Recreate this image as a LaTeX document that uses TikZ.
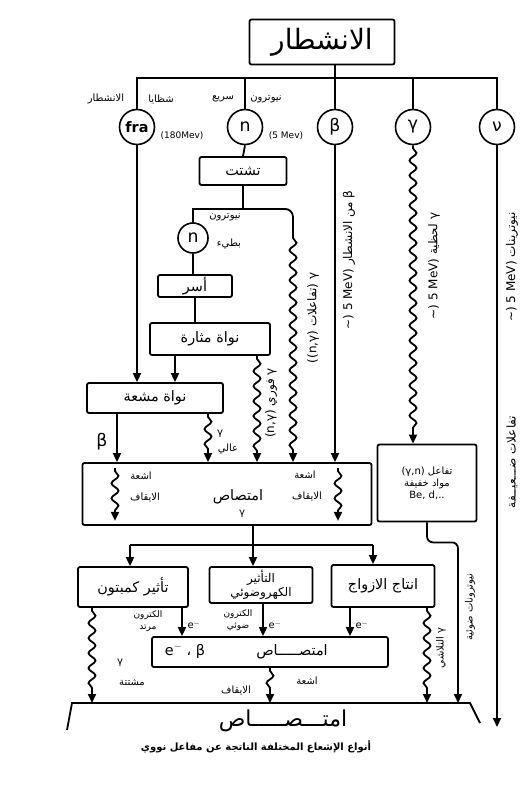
\documentclass[tikz,border=0pt]{standalone}
\usepackage{fontspec}
\setmainfont{DejaVu Sans}
\newfontfamily\arabicfont[Script=Arabic]{DejaVu Sans}
\TeXXeTstate=1
\usetikzlibrary{arrows.meta,positioning,decorations.pathmorphing}
\newcommand{\artxt}[1]{{\arabicfont\beginR #1\endR}}

\begin{document}
\begin{tikzpicture}[x=1pt, y=-1pt,
    box/.style={rectangle, draw, line width=1.8pt, rounded corners=2pt, font=\Large, align=center, inner sep=2pt},
    particle/.style={circle, draw, line width=1.6pt, minimum size=35pt, inner sep=0pt, font=\LARGE},
    lbl/.style={font=\normalsize, inner sep=1pt},
    side/.style={lbl, font=\large, rotate=90},
    wire/.style={line width=1.8pt},
    arrow/.style={wire, -{Triangle[length=9pt, width=8pt]}},
    wave/.style={wire, decorate, decoration={snake, amplitude=3.5pt, segment length=15pt, pre length=3pt, post length=9pt}},
    wavearrow/.style={wave, -{Triangle[length=9pt, width=8pt]}}
]
    \useasboundingbox (0,0) rectangle (532,792);

    % Fission
    \node[box, minimum width=145pt, minimum height=45pt, font=\fontsize{28}{30}\selectfont] (fission) at (322,42) {\artxt{الانشطار}};
    \coordinate (bus) at (0,78);

    % Particles
    \node[particle, font=\Large\bfseries] (frag) at (137,127) {fra};
    \node[particle] (fastn) at (245,127) {n};
    \node[particle] (beta) at (335,127) {β};
    \node[particle] (gamma) at (413,127) {γ};
    \node[particle] (nu) at (497,127) {ν};
    \draw[wire] (beta |- fission.south) -- (beta.north);
    \draw[wire] (frag.north) |- (nu |- bus) -- (nu.north);
    \draw[wire] (fastn.north) -- (fastn |- bus);
    \draw[wire] (gamma.north) -- (gamma |- bus);
    \node[lbl] (fraglbl) at (106,99) {\artxt{الانشطار}};
    \node[lbl] (fraglbl2) at (161,99) {\artxt{شظايا}};
    \node[lbl] (fastlbl) at (223,99) {\artxt{سريع}};
    \node[lbl] (fastlbl2) at (266,99) {\artxt{نيوترون}};
    \node[lbl, font=\small] (fragE) at (182,136) {(180Mev)};
    \node[lbl, font=\small] (fastE) at (286,136) {(5 Mev)};

    % Neutron branch
    \node[box, minimum width=87pt, minimum height=28pt] (scatter) at (243,171) {\artxt{تشتت}};
    \node[particle, minimum size=30pt] (slown) at (193,238) {n};
    \node[lbl] (slowlbl) at (225,217) {\artxt{نيوترون}};
    \node[lbl] (slowlbl2) at (229,244) {\artxt{بطيء}};
    \node[box, minimum width=74pt, minimum height=22pt] (capture) at (195,286) {\artxt{أسر}};
    \node[box, minimum width=120pt, minimum height=32pt] (excited) at (210,339) {\artxt{نواة مثارة}};
    \node[box, minimum width=136pt, minimum height=30pt] (radio) at (155,398) {\artxt{نواة مشعة}};
    \coordinate (nbend) at (293,235);
    \draw[wire] (fastn.south) -- (scatter.north);
    \draw[wire] (scatter.south) -- ++(0,23) coordinate (fork) -| (slown.north);
    \draw[wire, rounded corners=8pt] (fork) -| (nbend);
    \draw[wire] (slown.south) -- (slown |- capture.north);
    \draw[wire] (capture.south) -- (capture.south |- excited.north);

    % Absorption
    \node[box, minimum width=289pt, minimum height=62pt] (absorb) at (227,494) {};
    \node[box, minimum width=99pt, minimum height=77pt, font=\normalsize] (light) at (427,483)
        {\artxt{تفاعل \beginL(γ,n)\endL}\\\artxt{مواد خفيفة}\\Be, d,..};

    % Arrows into absorption
    \draw[arrow] (frag.south) -- (frag |- radio.north);
    \draw[arrow] ([xshift=-35pt]excited.south) -- ([xshift=-35pt]excited.south |- radio.north);
    \draw[wavearrow] ([xshift=47pt]excited.south) -- ([xshift=47pt]excited.south |- absorb.north);
    \draw[wavearrow] (nbend) -- (nbend |- absorb.north);
    \draw[arrow] (beta.south) -- (beta |- absorb.north);
    \draw[wavearrow] (gamma.south) -- (gamma |- light.north);
    \draw[arrow] ([xshift=-38pt]radio.south) -- ([xshift=-38pt]radio.south |- absorb.north);
    \draw[wavearrow] ([xshift=53pt]radio.south) -- ([xshift=53pt]radio.south |- absorb.north);
    \node[font=\LARGE] (betamark) at (102,442) {β};
    \node[lbl] (hgam) at (220,434) {γ};
    \node[lbl] (hgam2) at (228,449) {\artxt{عالي}};

    % Vertical labels
    \node[side] (betalbl) at (349,260) {\artxt{β من الانشطار \beginL(\textasciitilde\ 5 MeV)\endL}};
    \node[side] (gamlbl) at (434,266) {\artxt{γ لحظية \beginL(\textasciitilde\ 5 MeV)\endL}};
    \node[side] (nulbl) at (512,267) {\artxt{نيوترينات \beginL(\textasciitilde\ 5 MeV)\endL}};
    \node[side] (nulbl2) at (512,462) {\artxt{تفاعلات ضـــعيــفة}};
    \node[side] (nglbl) at (313,318) {\artxt{γ (تفاعلات \beginL(n,γ)\endL)}};
    \node[side] (promptlbl) at (271,403) {\artxt{γ فوري \beginL(n,γ)\endL}};

    % Inside absorption
    \node[lbl] (stopl) at (141,476) {\artxt{اشعة}};
    \node[lbl] (stopl2) at (145,497) {\artxt{الايقاف}};
    \node[font=\Large, inner sep=1pt] (absorbtxt) at (238,497) {\artxt{امتصاص}};
    \node[lbl] (absgam) at (242,514) {γ};
    \node[lbl] (stopr) at (305,475) {\artxt{اشعة}};
    \node[lbl] (stopr2) at (307,496) {\artxt{الايقاف}};
    \draw[wavearrow] ([xshift=-112pt,yshift=-6pt]absorb.north) -- ([xshift=-112pt,yshift=5pt]absorb.south);
    \draw[wavearrow] ([xshift=111pt,yshift=-6pt]absorb.north) -- ([xshift=111pt,yshift=5pt]absorb.south);

    % Interactions
    \node[box, minimum width=110pt, minimum height=40pt] (compton) at (133,587) {\artxt{تأثير كمبتون}};
    \node[box, minimum width=103pt, minimum height=36pt, font=\large] (photo) at (261,585) {\artxt{التأثير}\\\artxt{الكهروضوئي}};
    \node[box, minimum width=103pt, minimum height=42pt] (pair) at (383,586) {\artxt{انتاج الازواج}};
    \coordinate (c1) at (130,545);
    \coordinate (c2) at (253,545);
    \coordinate (c3) at (373,545);
    \draw[wire] (c2 |- absorb.south) -- (c2);
    \draw[wire] (c1) -- (c3);
    \draw[arrow] (c1) -- (c1 |- compton.north);
    \draw[arrow] (c2) -- (c2 |- photo.north);
    \draw[arrow] (c3) -- (c3 |- pair.north);

    % Second absorption
    \node[box, minimum width=236pt, minimum height=30pt] (absorb2) at (270,652) {};
    \node[lbl, font=\Large] (abs2txt) at (292,652) {\artxt{امتصـــــاص}};
    \node[lbl, font=\Large] (abs2par) at (185,651) {\artxt{β ، \beginL e$^-$\endL}};
    \draw[arrow] ([xshift=49pt]compton.south) -- ([xshift=49pt]compton.south |- absorb2.north);
    \draw[arrow] ([xshift=2pt]photo.south) -- ([xshift=2pt]photo.south |- absorb2.north);
    \draw[arrow] ([xshift=-33pt]pair.south) -- ([xshift=-33pt]pair.south |- absorb2.north);
    \node[lbl] (e1) at (194,625) {e$^-$};
    \node[lbl] (e2) at (275,625) {e$^-$};
    \node[lbl] (e3) at (362,625) {e$^-$};
    \node[lbl, font=\small] (recoil) at (148,615) {\artxt{الكترون}};
    \node[lbl, font=\small] (recoil2) at (148,628) {\artxt{مرتد}};
    \node[lbl, font=\small] (photoe) at (238,614) {\artxt{الكترون}};
    \node[lbl, font=\small] (photoe2) at (238,627) {\artxt{ضوئي}};

    % Floor
    \coordinate (floorL) at (72,703);
    \coordinate (floorR) at (470,703);
    \coordinate (pnend) at (458,703);
    \draw[wire] (67,730) -- (floorL) -- (floorR) -- (480,723);
    \node[font=\fontsize{22}{24}\selectfont] (sink) at (283,721) {\artxt{امتـــصـــــاص}};
    \draw[wavearrow] ([xshift=-41pt]compton.south) -- ([xshift=-41pt]compton.south |- floorL);
    \node[lbl] (scgam) at (120,663) {γ};
    \node[lbl] (scgam2) at (132,683) {\artxt{مشتتة}};
    \draw[wavearrow] (absorb2.south) -- (absorb2.south |- floorL);
    \node[lbl] (stopb) at (307,681) {\artxt{اشعة}};
    \node[lbl] (stopb2) at (236,690) {\artxt{الايقاف}};
    \draw[wavearrow] ([xshift=44pt]pair.south) -- ([xshift=44pt]pair.south |- floorL);
    \node[side, font=\normalsize] (annlbl) at (441,648) {\artxt{γ التلاشي}};
    \draw[arrow, rounded corners=6pt] (light.south) -- ++(0,20) -| (pnend);
    \node[side, font=\normalsize] (pnlbl) at (470,607) {\artxt{نيوترونات ضوئية}};
    \coordinate (nuend) at (497,727);
    \draw[arrow] (nu.south) -- (nuend);

    % Caption
    \node[font=\fontsize{10}{12}\selectfont\bfseries] (caption) at (256,747) {\artxt{أنواع الإشعاع المختلفة الناتجة عن مفاعل نووي}};
\end{tikzpicture}
\end{document}
